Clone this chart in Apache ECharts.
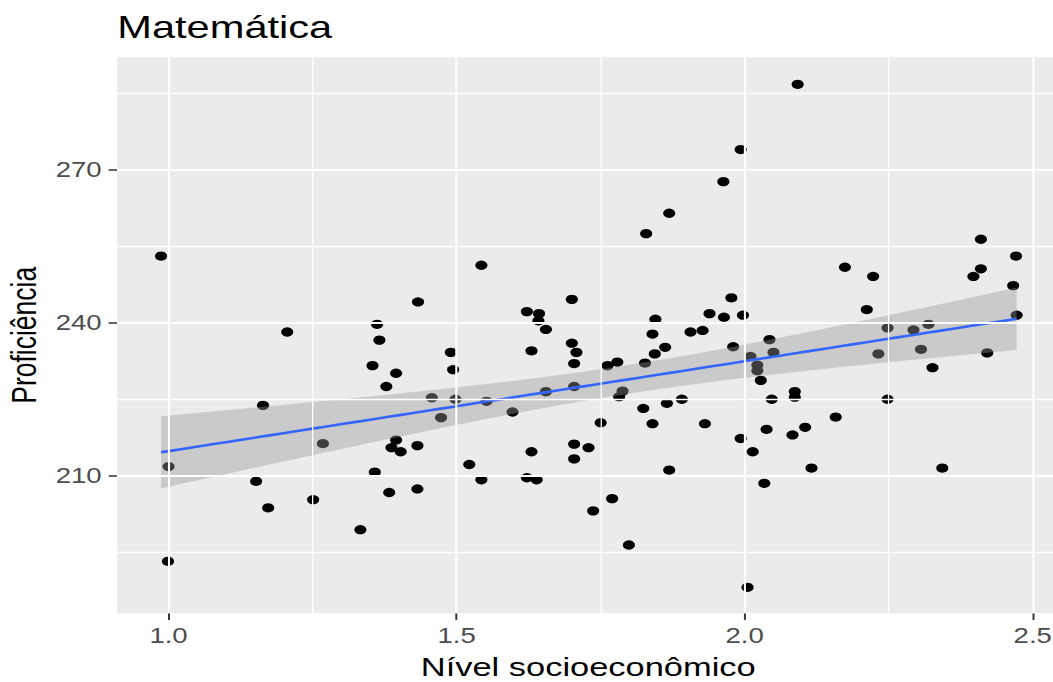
<!DOCTYPE html>
<html>
<head>
<meta charset="utf-8">
<script src="https://cdn.jsdelivr.net/npm/echarts@6/dist/echarts.min.js"></script>
<style>
  html, body { margin: 0; padding: 0; width: 1053px; height: 682px; overflow: hidden; background: #ffffff; }
  /* the plot is laid out on a narrower canvas and widened horizontally */
  #chart { width: 810px; height: 682px; transform: scaleX(1.3); transform-origin: 0 0; }
</style>
</head>
<body>
<div id="chart"></div>
<script>
// Socio-economic level of each school (x) and its mean mathematics score (y)
const nivel = [
  0.987, 0.999, 1.000, 1.152, 1.164, 1.173, 1.206, 1.251, 1.268, 1.333,
  1.354, 1.358, 1.362, 1.366, 1.378, 1.383, 1.387, 1.395, 1.395, 1.403,
  1.432, 1.432, 1.433, 1.457, 1.473, 1.490, 1.494, 1.498, 1.522, 1.543,
  1.543, 1.552, 1.597, 1.622, 1.622, 1.630, 1.630, 1.639, 1.642, 1.643,
  1.655, 1.655, 1.700, 1.700, 1.704, 1.704, 1.704, 1.704, 1.708, 1.729,
  1.737, 1.750, 1.762, 1.770, 1.779, 1.782, 1.788, 1.799, 1.824, 1.827,
  1.829, 1.840, 1.840, 1.844, 1.845, 1.862, 1.865, 1.869, 1.869, 1.891,
  1.906, 1.927, 1.931, 1.939, 1.963, 1.964, 1.977, 1.980, 1.993, 1.993,
  1.997, 2.005, 2.010, 2.014, 2.022, 2.022, 2.028, 2.034, 2.038, 2.043,
  2.047, 2.050, 2.083, 2.087, 2.087, 2.092, 2.105, 2.116, 2.158, 2.174,
  2.212, 2.223, 2.232, 2.248, 2.248, 2.293, 2.306, 2.319, 2.326, 2.343,
  2.397, 2.410, 2.410, 2.421, 2.466, 2.471, 2.472
];
const proficiencia = [
  253.1, 193.2, 211.8, 208.9, 223.8, 203.7, 238.2, 205.3, 216.3, 199.4,
  231.6, 210.7, 239.7, 236.6, 227.5, 206.7, 215.5, 230.1, 217.0, 214.7,
  215.9, 207.4, 244.1, 225.3, 221.4, 234.2, 230.8, 225.0, 212.2, 251.3,
  209.2, 224.6, 222.5, 242.2, 209.6, 234.5, 214.7, 209.2, 240.4, 241.8,
  226.5, 238.7, 244.6, 236.0, 232.0, 227.5, 216.2, 213.3, 234.2, 215.5,
  203.1, 220.4, 231.6, 205.5, 232.3, 225.5, 226.6, 196.4, 223.2, 232.1,
  257.5, 237.8, 220.2, 233.9, 240.7, 235.2, 224.2, 261.5, 211.1, 225.0,
  238.2, 238.5, 220.2, 241.8, 267.7, 241.1, 244.9, 235.3, 217.3, 274.0,
  241.5, 188.1, 233.4, 214.7, 231.7, 230.6, 228.7, 208.5, 219.1, 236.7,
  225.0, 234.2, 218.0, 226.5, 225.4, 286.8, 219.5, 211.5, 221.5, 250.9,
  242.6, 249.1, 233.9, 239.0, 225.0, 238.6, 234.8, 239.7, 231.2, 211.5,
  249.1, 250.6, 256.4, 234.1, 247.3, 253.1, 241.5
];

// Axis breaks: labelled (major) and unlabelled (minor) grid positions
const xBreaks = [1.0, 1.5, 2.0, 2.5];
const xMinor = [1.25, 1.75, 2.25];
const yBreaks = [210, 240, 270];
const yMinor = [195, 225, 255, 285];

const titulo = 'Matemática';
const tituloX = 'Nível socioeconômico';
const tituloY = 'Proficiência';

// Ordinary least squares fit with a 95% confidence band (geom_smooth, method = "lm")
function linearFit(xs, ys, steps) {
  const n = xs.length;
  const mx = xs.reduce((s, v) => s + v, 0) / n;
  const my = ys.reduce((s, v) => s + v, 0) / n;
  let sxx = 0, sxy = 0;
  for (let i = 0; i < n; i++) {
    sxx += (xs[i] - mx) * (xs[i] - mx);
    sxy += (xs[i] - mx) * (ys[i] - my);
  }
  const b = sxy / sxx;
  const a = my - b * mx;
  let sse = 0;
  for (let i = 0; i < n; i++) {
    const r = ys[i] - (a + b * xs[i]);
    sse += r * r;
  }
  const s2 = sse / (n - 2);
  const tq = 1.981; // t quantile, 0.975, df = n - 2
  const lo = Math.min(...xs), hi = Math.max(...xs);
  const fit = [], upper = [], lower = [];
  for (let k = 0; k < steps; k++) {
    const x0 = lo + (hi - lo) * k / (steps - 1);
    const y0 = a + b * x0;
    const se = Math.sqrt(s2 * (1 / n + (x0 - mx) * (x0 - mx) / sxx));
    fit.push([x0, y0]);
    upper.push([x0, y0 + tq * se]);
    lower.push([x0, y0 - tq * se]);
  }
  return { fit, upper, lower };
}

const model = linearFit(nivel, proficiencia, 80);
const pontos = nivel.map((x, i) => [x, proficiencia[i]]);

const FONT = "'Liberation Sans', Arial, sans-serif";

const chart = echarts.init(document.getElementById('chart'), null, { renderer: 'svg' });

const gridLine = (w) => ({ color: '#ffffff', width: w, type: 'solid', opacity: 1 });

chart.setOption({
  animation: false,
  backgroundColor: '#ffffff',
  title: {
    text: titulo,
    left: 90.2,
    top: 11,
    padding: 0,
    textStyle: { fontFamily: FONT, fontSize: 32, fontWeight: 'normal', color: '#000000' }
  },
  grid: {
    left: 90.2,
    top: 57.3,
    width: 724.6,
    height: 556,
    show: true,
    backgroundColor: '#EBEBEB',
    borderWidth: 0,
    containLabel: false,
    outerBoundsMode: 'none'
  },
  xAxis: {
    type: 'value',
    min: 0.911,
    max: 2.546,
    axisLine: { show: false },
    splitLine: { show: false },
    axisTick: { show: true, length: 6.6, lineStyle: { color: '#333333', width: 1.5 }, customValues: xBreaks },
    axisLabel: {
      customValues: xBreaks,
      margin: 12,
      fontFamily: FONT,
      fontSize: 21.2,
      color: '#4D4D4D',
      formatter: (v) => v.toFixed(1)
    },
    name: tituloX,
    nameLocation: 'middle',
    nameGap: 40,
    nameTextStyle: { fontFamily: FONT, fontSize: 26.5, color: '#000000' }
  },
  yAxis: {
    type: 'value',
    min: 183.0,
    max: 292.1,
    axisLine: { show: false },
    splitLine: { show: false },
    axisTick: { show: true, length: 6.6, lineStyle: { color: '#333333', width: 1.5 }, customValues: yBreaks },
    axisLabel: {
      customValues: yBreaks,
      margin: 12,
      fontFamily: FONT,
      fontSize: 21.2,
      color: '#4D4D4D'
    },
    name: tituloY,
    nameLocation: 'middle',
    nameRotate: 90,
    nameGap: 58,
    nameTextStyle: { fontFamily: FONT, fontSize: 26.5, color: '#000000' }
  },
  series: [
    {
      // panel grid lines
      type: 'line',
      data: [],
      silent: true,
      z: 1,
      markLine: {
        silent: true,
        symbol: ['none', 'none'],
        label: { show: false },
        animation: false,
        emphasis: { disabled: true },
        data: [
          ...xMinor.map(v => ({ xAxis: v, lineStyle: gridLine(1.0) })),
          ...yMinor.map(v => ({ yAxis: v, lineStyle: gridLine(1.3) })),
          ...xBreaks.map(v => ({ xAxis: v, lineStyle: gridLine(1.6) })),
          ...yBreaks.map(v => ({ yAxis: v, lineStyle: gridLine(2.0) }))
        ]
      }
    },
    {
      type: 'scatter',
      data: pontos,
      symbol: 'circle',
      symbolSize: 9.3,
      itemStyle: { color: '#000000', opacity: 1 },
      silent: true,
      z: 2
    },
    {
      // confidence ribbon
      type: 'custom',
      data: [0],
      silent: true,
      z: 3,
      renderItem: (params, api) => {
        const poly = model.upper.concat(model.lower.slice().reverse()).map(p => api.coord(p));
        return {
          type: 'polygon',
          shape: { points: poly },
          style: { fill: 'rgba(153,153,153,0.4)', stroke: 'none' }
        };
      }
    },
    {
      type: 'line',
      data: model.fit,
      showSymbol: false,
      symbol: 'none',
      silent: true,
      lineStyle: { color: '#3366FF', width: 2.6 },
      z: 4
    }
  ]
});
</script>
</body>
</html>
